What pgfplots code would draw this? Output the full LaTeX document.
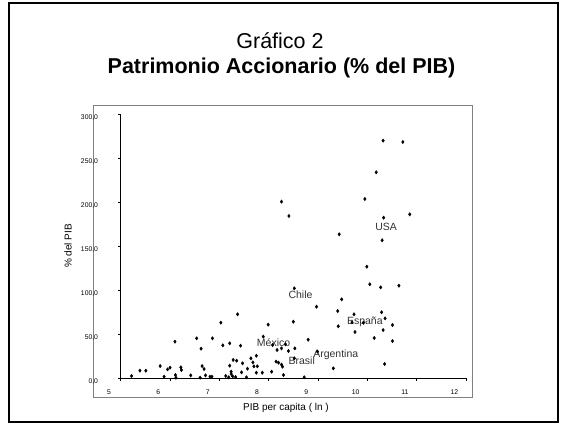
\documentclass[border=0pt]{standalone}
\usepackage{pgfplots}
\pgfplotsset{compat=1.18}
\usepackage{fontspec}
\setmainfont{Liberation Sans}
\pgfplotstableread{
x y
5.22 2.3
5.39 8.3
5.51 8.3
5.80 13.6
5.88 1.5
5.95 9.8
6.00 11.7
6.10 41.3
6.11 3.4
6.12 0.3
6.22 12.1
6.23 9.1
6.42 3.0
6.54 45.1
6.63 33.3
6.61 0.4
6.65 13.6
6.69 10.2
6.72 3.0
6.81 1.5
6.85 1.5
6.86 45.1
7.03 62.9
7.07 37.1
7.13 2.3
7.19 0.8
7.21 39.4
7.21 14.0
7.24 7.2
7.24 4.5
7.27 1.9
7.28 20.5
7.33 1.1
7.35 19.7
7.37 72.4
7.43 36.7
7.45 6.4
7.47 16.7
7.55 0.8
7.57 10.6
7.64 22.4
7.68 17.8
7.70 13.3
7.75 25.3
7.75 6.0
7.77 13.3
7.87 6.0
7.89 47.0
7.99 60.6
8.06 7.2
8.08 37.5
8.15 18.6
8.17 31.8
8.20 17.4
8.26 33.7
8.26 15.2
8.28 12.9
8.30 3.4
8.34 38.3
8.40 30.7
8.53 33.7
8.50 64.0
8.52 101.9
8.52 22.4
8.72 0.8
8.80 43.5
8.97 81.0
8.99 30.0
9.31 11.0
9.40 76.1
9.41 58.8
9.48 89.4
9.69 63.3
9.73 72.4
9.75 52.3
9.92 62.8
9.99 126.5
10.05 106.5
10.14 45.5
10.27 103.0
10.29 74.7
10.36 67.8
10.32 54.5
10.35 15.9
10.51 60.2
10.51 42.0
10.64 104.9
10.32 269.7
10.72 268.2
10.18 233.8
8.26 200.4
9.95 203.4
8.41 184.1
10.86 186.0
10.33 182.2
9.43 163.3
10.30 156.5
}\datatable
\begin{document}
\begin{tikzpicture}[x=1pt,y=1pt]
\path[use as bounding box] (0,0) rectangle (568,424);
\draw[line width=1.3pt] (9,2) rectangle (558,421);
\draw[color=black!50, line width=1pt] (93,27) rectangle (472,318);
\node[anchor=base, font=\fontsize{21.5}{25}\selectfont] at (280,375) {Gráfico 2};
\node[anchor=base, font=\fontsize{21.5}{25}\selectfont\bfseries] at (281.5,350.5) {Patrimonio Accionario (\% del PIB)};
\node[font=\fontsize{10}{12}\selectfont] at (286,16) {PIB per capita ( ln )};
\node[font=\fontsize{10}{12}\selectfont, rotate=90] at (68,178) {\% del PIB};
\begin{axis}[
  at={(120.7pt,46pt)}, anchor=south west,
  scale only axis, width=345.3pt, height=264pt,
  xmin=5, xmax=12, ymin=0, ymax=300,
  axis x line=bottom, axis y line=left,
  axis line style={-, black, line width=0.8pt},
  tick align=outside, major tick length=2.5pt,
  tick style={black, line width=0.6pt},
  xtick={5,...,12}, xticklabels={5,6,7,8,9,10,11,12},
  ytick={0,50,...,300},
  yticklabels={{0,0},{50,0},{100,0},{150,0},{200,0},{250,0},{300,0}},
  ticklabel style={font=\fontsize{6.8}{7}\selectfont},
  xticklabel style={anchor=center, inner sep=0pt, xshift=-11.7pt, yshift=-12pt},
  yticklabel style={anchor=east, inner sep=0pt, xshift=-20pt, yshift=-3.5pt},
  clip=false,
]
\addplot[only marks, mark=diamond*, mark size=1.7pt, black] table[x=x,y=y] {\datatable};
\node[font=\fontsize{10.5}{12}\selectfont, text=black!80] at (axis cs:8.645,95.1) {Chile};
\node[font=\fontsize{10.5}{12}\selectfont, text=black!80] at (axis cs:8.10,40.6) {México};
\node[font=\fontsize{10.5}{12}\selectfont, text=black!80] at (axis cs:8.67,19.3) {Brasil};
\node[font=\fontsize{10.5}{12}\selectfont, text=black!80] at (axis cs:9.36,26.9) {Argentina};
\node[font=\fontsize{10.5}{12}\selectfont, text=black!80] at (axis cs:9.95,64) {España};
\node[font=\fontsize{10.5}{12}\selectfont, text=black!80] at (axis cs:10.38,172) {USA};
\end{axis}
\end{tikzpicture}
\end{document}
